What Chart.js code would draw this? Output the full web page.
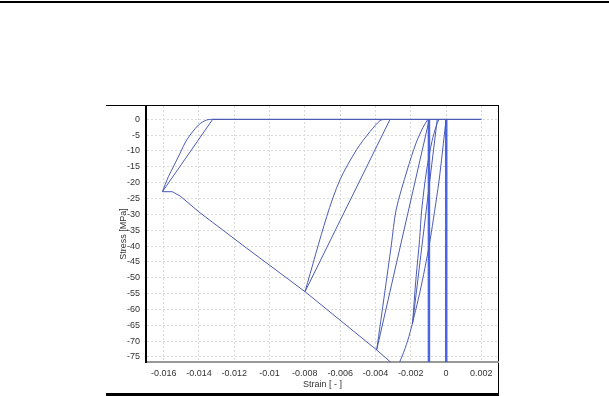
<!DOCTYPE html>
<html lang="en">
<head>
<meta charset="UTF-8" />
<title>Stress - Strain</title>
<script src="https://cdn.jsdelivr.net/npm/chart.js"></script>
<style>
  body { margin: 0; background: #fff; }
  #rule { position: absolute; left: 0; top: 1px; width: 609px; height: 2px; background: #000; }
  #frame { position: absolute; left: 106px; top: 105px; width: 392px; height: 287px;
           border-top: 1px solid #000; border-right: 1px solid #000; border-bottom: 3px solid #000; }
  #wrap { position: absolute; left: 106px; top: 105px; width: 393px; height: 288px; }
</style>
</head>
<body>
<div id="rule"></div>
<div id="frame"></div>
<div id="wrap"><canvas id="chart" width="393" height="288"></canvas></div>
<script>
// axis ticks
const strainTicks = [-0.016, -0.014, -0.012, -0.01, -0.008, -0.006, -0.004, -0.002, 0, 0.002];
const stressTicks = [0, -5, -10, -15, -20, -25, -30, -35, -40, -45, -50, -55, -60, -65, -70, -75];

// softening envelope
const envStrain = [-0.01607, -0.01551, -0.01507, -0.01394, -0.01129, -0.00799, -0.00393, -0.00317, -0.0029];
const envStress = [-22.85, -22.85, -24.2, -29.5, -40.7, -54.4, -72.8, -76.5, -77.8];

// ascending branch
const riseStrain = [0, -0.0002, -0.0004, -0.00065, -0.0009, -0.0012, -0.0015, -0.0018, -0.0021, -0.0024, -0.0027, -0.0029];
const riseStress = [0, -10, -19.5, -29, -38, -47, -55, -62, -68.5, -73.5, -77.5, -79.5];

// zero stress line
const zeroStrain = [-0.01327, 0.002];
const zeroStress = [0, 0];

// unload / reload loops
const loop1CurveStrain = [-0.01607, -0.01573, -0.01545, -0.01507, -0.01469, -0.01403, -0.01356, -0.01327];
const loop1CurveStress = [-22.85, -18.1, -15.0, -10.7, -6.5, -1.8, -0.2, 0];
const loop1LineStrain = [-0.01607, -0.01322];
const loop1LineStress = [-22.85, 0];

const loop2CurveStrain = [-0.00799, -0.00676, -0.00601, -0.00507, -0.00431, -0.00374, -0.00346];
const loop2CurveStress = [-54.4, -30.7, -19.1, -9.6, -3.9, -0.4, 0];
const loop2LineStrain = [-0.00799, -0.00317];
const loop2LineStress = [-54.4, 0];

const loop3CurveStrain = [-0.00393, -0.00348, -0.0031, -0.00283, -0.0022, -0.0017, -0.0013, -0.00103];
const loop3CurveStress = [-72.8, -54.9, -39.7, -28.6, -16, -7.5, -2.5, 0];
const loop3LineStrain = [-0.00393, -0.00095];
const loop3LineStress = [-72.8, 0];

const loop4CurveStrain = [-0.0019, -0.0017, -0.0015, -0.00138, -0.0011, -0.0008, -0.00055, -0.0004];
const loop4CurveStress = [-64.6, -50, -38, -28.6, -16, -7, -2, 0];
const loop4LineStrain = [-0.0019, -0.0005];
const loop4LineStress = [-64.6, 0];

// the two vertical jumps
const jumpAStrain = [-0.00097, -0.00097];
const jumpAStress = [0, -80];
const jumpBStrain = [0.00001, 0.00001];
const jumpBStress = [0, -80];

function pts(xs, ys) {
  return xs.map((x, i) => ({ x: x, y: ys[i] }));
}

const thin = '#4c5cb4';
const bright = 'rgba(55, 85, 225, 0.9)';

function line(xs, ys, color, width, smooth) {
  return {
    data: pts(xs, ys), borderColor: color, borderWidth: width, pointRadius: 0,
    tension: smooth ? 0.3 : 0, fill: false
  };
}

const font = { family: 'Liberation Sans, Arial, sans-serif', size: 9 };

new Chart(document.getElementById('chart'), {
  type: 'line',
  data: {
    datasets: [
      line(zeroStrain, zeroStress, thin, 1.2),
      line(envStrain, envStress, thin, 1),
      line(riseStrain, riseStress, thin, 1, true),
      line(loop1CurveStrain, loop1CurveStress, thin, 1, true),
      line(loop1LineStrain, loop1LineStress, thin, 1),
      line(loop2CurveStrain, loop2CurveStress, thin, 1, true),
      line(loop2LineStrain, loop2LineStress, thin, 1),
      line(loop3CurveStrain, loop3CurveStress, thin, 1, true),
      line(loop3LineStrain, loop3LineStress, thin, 1),
      line(loop4CurveStrain, loop4CurveStress, thin, 1, true),
      line(loop4LineStrain, loop4LineStress, thin, 1),
      line(jumpAStrain, jumpAStress, bright, 2.5),
      line(jumpBStrain, jumpBStress, bright, 2.5)
    ]
  },
  options: {
    responsive: false,
    animation: false,
    layout: { padding: { top: 1, right: 0, left: 0, bottom: 0 } },
    plugins: { legend: { display: false }, tooltip: { enabled: false } },
    scales: {
      x: {
        type: 'linear',
        min: -0.017,
        max: 0.003,
        afterBuildTicks: s => { s.ticks = strainTicks.map(v => ({ value: v })); },
        afterFit: s => { s.height = 31; s.paddingLeft = 0; s.paddingRight = 0; },
        ticks: {
          font: font, color: '#333', padding: 6, maxRotation: 0,
          callback: v => String(parseFloat(v.toFixed(3)))
        },
        grid: { color: '#dadada', drawTicks: false },
        border: { color: '#999', width: 2, dash: [2, 2] },
        title: { display: true, text: 'Strain [ - ]', font: font, color: '#333', padding: { top: 0, bottom: 3 } }
      },
      y: {
        type: 'linear',
        min: -76.6,
        max: 4.2,
        afterBuildTicks: s => { s.ticks = stressTicks.map(v => ({ value: v })); },
        afterFit: s => { s.width = 40; s.paddingTop = 0; s.paddingBottom = 0; },
        ticks: { font: font, color: '#333', padding: 6 },
        grid: { color: '#dadada', drawTicks: false },
        border: { color: '#000', width: 2, dash: [2, 2] },
        title: { display: true, text: 'Stress [MPa]', font: font, color: '#333', padding: { top: 12, bottom: 0 } }
      }
    }
  }
});
</script>
</body>
</html>
